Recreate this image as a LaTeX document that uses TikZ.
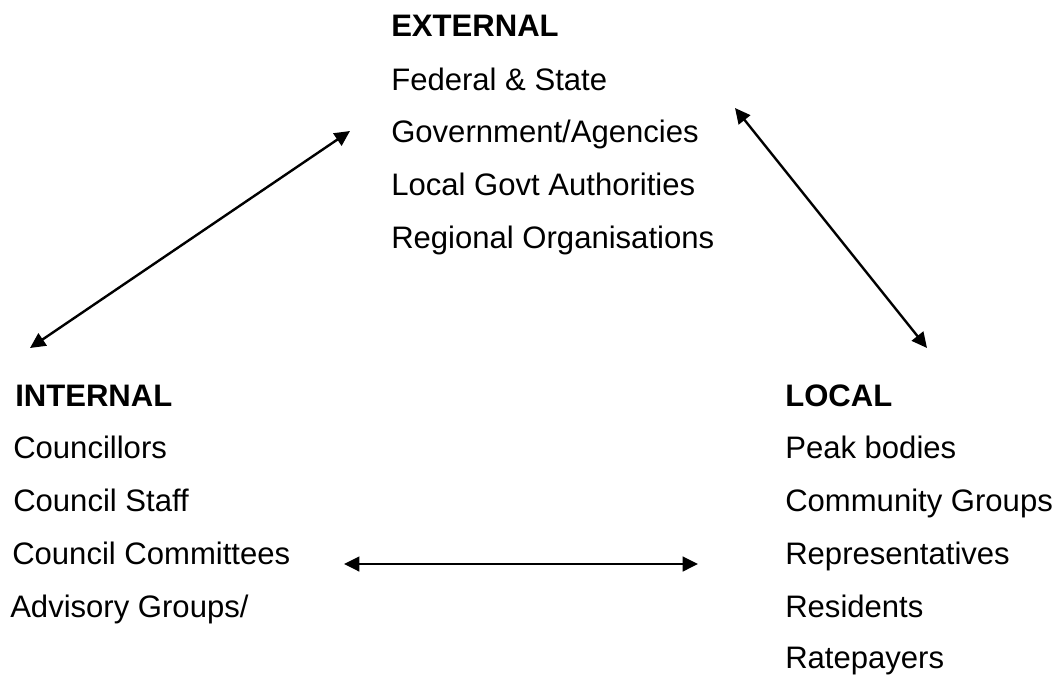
\documentclass[tikz,border=0pt]{standalone}
\usepackage{fontspec}
\setmainfont{Liberation Sans}
\usetikzlibrary{arrows.meta}
\begin{document}
\begin{tikzpicture}[x=0.75pt,y=-0.75pt,
  item/.style={anchor=base west,inner sep=0pt,font=\fontsize{23.3}{28}\selectfont},
  head/.style={item,font=\fontsize{23.3}{28}\selectfont\bfseries},
  link/.style={line width=1.8pt,{Triangle[length=11.5pt,width=11pt]}-{Triangle[length=11.5pt,width=11pt]}}]
\useasboundingbox (0,0) rectangle (1059,674);

% External group
\node[head] (ext)  at (391,37)  {EXTERNAL};
\node[item] (ext1) at (391,90)  {Federal \& State};
\node[item] (ext2) at (391,142) {Government/Agencies};
\node[item] (ext3) at (391,195) {Local Govt Authorities};
\node[item] (ext4) at (391,248) {Regional Organisations};

% Internal group
\node[head] (int)  at (15,406)  {INTERNAL};
\node[item] (int1) at (13,458)  {Councillors};
\node[item] (int2) at (13,511)  {Council Staff};
\node[item] (int3) at (12,564)  {Council Committees};
\node[item] (int4) at (10,617)  {Advisory Groups/};

% Local group
\node[head] (loc)  at (785,406) {LOCAL};
\node[item] (loc1) at (785,458) {Peak bodies};
\node[item] (loc2) at (785,511) {Community Groups};
\node[item] (loc3) at (785,564) {Representatives};
\node[item] (loc4) at (785,617) {Residents};
\node[item] (loc5) at (785,668) {Ratepayers};

% Arrow end points
\coordinate (iUp)  at (30,348);
\coordinate (eL)   at (350,131);
\coordinate (eR)   at (735,108);
\coordinate (lUp)  at (927,348);
\coordinate (iR)   at (344,564);
\coordinate (lL)   at (698,564);

\draw[link] (iUp) -- (eL);
\draw[link] (eR) -- (lUp);
\draw[link] (iR) -- (lL);
\end{tikzpicture}
\end{document}
